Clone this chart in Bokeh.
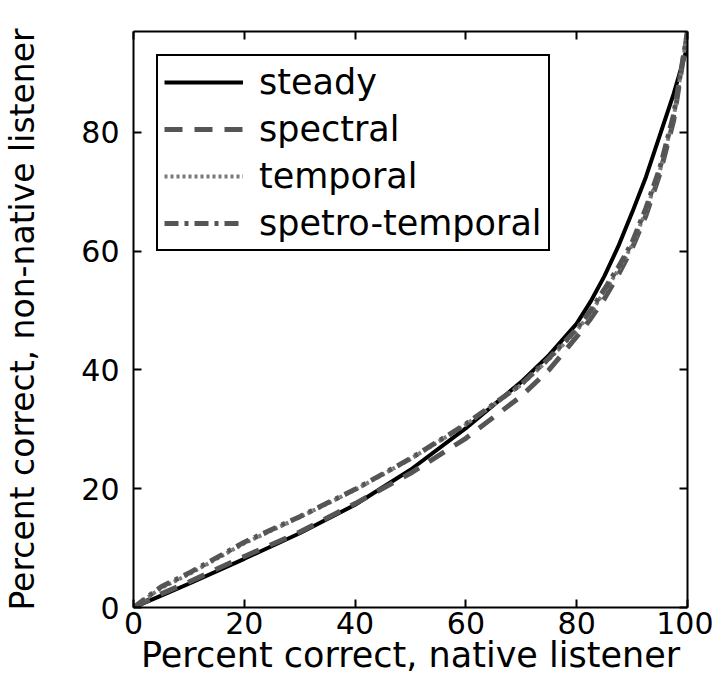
from bokeh.plotting import figure
from bokeh.models import Range1d, LinearAxis, FixedTicker, Legend, LegendItem
from bokeh.embed import file_html
from bokeh.resources import INLINE

# Data
native = [0, 5, 10, 20, 30, 40, 50, 60, 70, 75, 80, 82.5, 85, 87.5, 90, 92.5, 95, 97.5, 100]
steady = [0, 2.0, 4.0, 8.2, 12.5, 17.3, 23.2, 30.2, 38.0, 42.5, 47.8, 51.5, 55.8, 60.8, 66.5, 72.5, 79.5, 86.5, 94.5]
spectral = [0, 2.3, 4.3, 8.6, 12.7, 17.5, 22.6, 28.5, 35.6, 40.0, 45.6, 48.6, 52.0, 56.0, 60.5, 66.0, 73.0, 82.0, 97.0]
temporal = [0, 3.3, 5.6, 10.8, 15.2, 19.8, 25.0, 30.8, 37.5, 41.8, 46.6, 49.6, 53.2, 56.8, 61.0, 66.8, 73.5, 82.5, 97.0]
spectro_temporal = [0, 3.5, 5.8, 11.0, 15.3, 19.9, 25.1, 30.9, 37.6, 42.0, 46.9, 50.0, 53.6, 57.3, 61.5, 67.3, 74.0, 83.0, 97.0]

x_ticks = [0, 20, 40, 60, 80, 100]
y_ticks = [0, 20, 40, 60, 80]
labels = ["steady", "spectral", "temporal", "spetro-temporal"]

FONT = "DejaVu Sans"

p = figure(frame_width=554, frame_height=576,
           x_range=Range1d(0, 100), y_range=Range1d(0, 97.0),
           output_backend="svg", toolbar_location=None,
           min_border_left=127, min_border_top=31, min_border_right=26,
           min_border_bottom=70, x_axis_location=None, y_axis_location=None)
p.grid.visible = False
p.outline_line_color = None
p.background_fill_color = "white"
p.border_fill_color = "white"


def make_axis(ticks, labels_on, label=None, label_size="35px"):
    ax = LinearAxis(ticker=FixedTicker(ticks=ticks))
    ax.major_tick_in = 8
    ax.major_tick_out = 0
    ax.minor_tick_in = 0
    ax.minor_tick_out = 0
    ax.axis_line_width = 2
    ax.major_tick_line_width = 2
    ax.axis_line_color = "black"
    ax.major_tick_line_color = "black"
    if labels_on:
        ax.major_label_text_font = FONT
        ax.major_label_text_font_size = "30px"
        ax.major_label_text_color = "black"
    else:
        ax.major_label_text_font_size = "0px"
        ax.major_label_text_alpha = 0
    if label:
        ax.axis_label = label
        ax.axis_label_text_font = FONT
        ax.axis_label_text_font_size = label_size
        ax.axis_label_text_font_style = "normal"
        ax.axis_label_text_color = "black"
    return ax


xb = make_axis(x_ticks, True, "Percent correct, native listener", "35px")
xb.major_label_standoff = 4
xb.axis_label_standoff = -2
yl = make_axis(y_ticks, True, "Percent correct, non-native listener", "33px")
yl.major_label_standoff = 14
yl.axis_label_standoff = 36
xt = make_axis(x_ticks, False)
yr = make_axis(y_ticks, False)
p.add_layout(xb, "below")
p.add_layout(yl, "left")
p.add_layout(xt, "above")
p.add_layout(yr, "right")

r1 = p.line(native, steady, line_color="black", line_width=4)
r2 = p.line(native, spectral, line_color="#555555", line_width=5, line_dash="18 12")
r3 = p.line(native, temporal, line_color="#7a7a7a", line_width=4, line_dash="3 3")
r4 = p.line(native, spectro_temporal, line_color="#555555", line_width=5, line_dash="14 6 4 6")

legend = Legend(items=[LegendItem(label=l, renderers=[r]) for l, r in zip(labels, [r1, r2, r3, r4])],
                location="top_left", margin=23, padding=6,
                glyph_width=79, glyph_height=40, label_height=40, label_width=281, spacing=7,
                label_standoff=16,
                label_text_font=FONT, label_text_font_size="35px", label_text_color="black",
                border_line_color="black", border_line_width=2, border_line_alpha=1,
                background_fill_color="white", background_fill_alpha=1)
p.add_layout(legend, "center")

open("out.html", "w").write(file_html(p, INLINE))
